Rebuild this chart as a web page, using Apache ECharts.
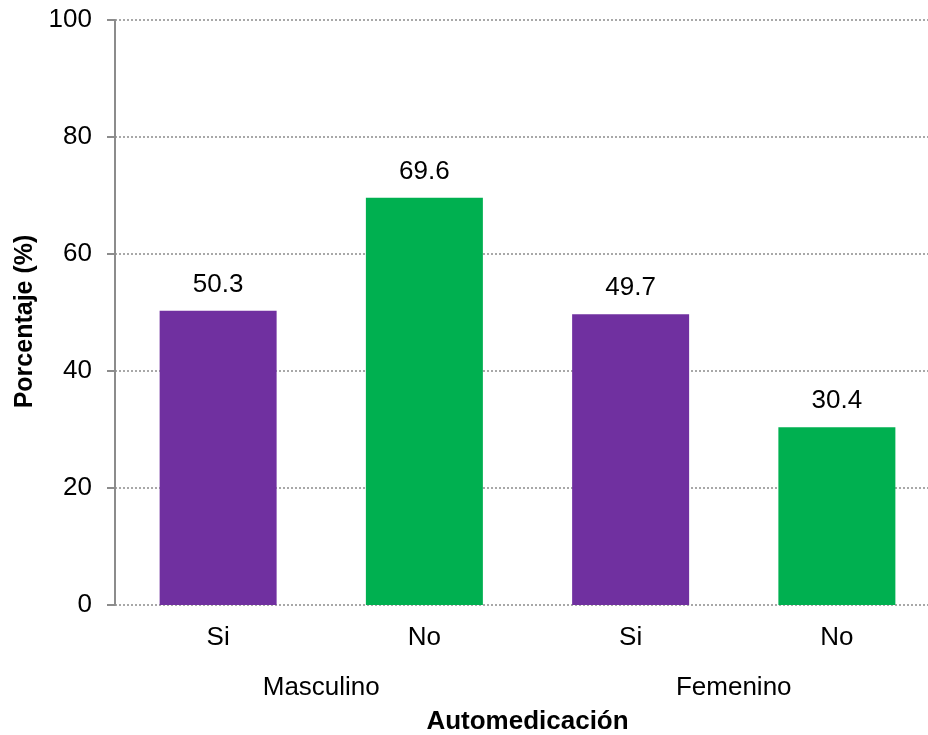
<!DOCTYPE html>
<html>
<head>
<meta charset="utf-8">
<script src="https://cdn.jsdelivr.net/npm/echarts@6/dist/echarts.min.js"></script>
<style>
  html, body { margin: 0; padding: 0; background: #fff; overflow: hidden; }
  #chart { width: 940px; height: 735px; }
</style>
</head>
<body>
<div id="chart"></div>
<script>
// Self-medication answers grouped by sex
const categories = ['Si', 'No', 'Si', 'No'];
const groups = ['Masculino', 'Femenino'];
const values = [50.3, 69.6, 49.7, 30.4];
const barColors = ['#7030A0', '#00B050', '#7030A0', '#00B050'];
const yTicks = [0, 20, 40, 60, 80, 100];

const font = 'Liberation Sans, Arial, sans-serif';

const chart = echarts.init(document.getElementById('chart'), null, { renderer: 'canvas' });

chart.setOption({
  backgroundColor: '#ffffff',
  animation: false,
  grid: { left: 115, top: 20, right: 0, bottom: 130, containLabel: false, outerBoundsMode: 'none' },
  xAxis: [
    {
      type: 'category',
      data: categories,
      position: 'bottom',
      axisLine: { show: false },
      axisTick: { show: false },
      axisLabel: { color: '#000', fontSize: 26, fontFamily: font, margin: 20 },
      name: 'Automedicación',
      nameLocation: 'middle',
      nameGap: 104,
      nameTextStyle: { color: '#000', fontSize: 26, fontWeight: 'bold', fontFamily: font }
    },
    {
      type: 'category',
      data: groups,
      position: 'bottom',
      offset: 50,
      axisLine: { show: false },
      axisTick: { show: false },
      axisLabel: { color: '#000', fontSize: 26, fontFamily: font, margin: 20 }
    }
  ],
  yAxis: {
    type: 'value',
    min: yTicks[0],
    max: yTicks[yTicks.length - 1],
    interval: 20,
    axisLine: { show: true, lineStyle: { color: '#8c8c8c', width: 2 } },
    axisTick: { show: true, inside: false, length: 8, lineStyle: { color: '#8c8c8c', width: 2 } },
    axisLabel: { color: '#000', fontSize: 26, fontFamily: font, margin: 23 },
    splitLine: { show: true, lineStyle: { color: '#8c8c8c', type: [2, 2], width: 1.5 } },
    name: 'Porcentaje (%)',
    nameLocation: 'middle',
    nameGap: 77,
    nameTextStyle: { color: '#000', fontSize: 25, fontWeight: 'bold', fontFamily: font, padding: [0, 18, 0, 0] }
  },
  series: [
    {
      type: 'bar',
      xAxisIndex: 0,
      barWidth: 117,
      data: values.map((v, i) => ({ value: v, itemStyle: { color: barColors[i] } })),
      label: {
        show: true,
        position: 'top',
        distance: 13,
        color: '#000',
        fontSize: 26,
        fontFamily: font,
        formatter: p => p.value.toFixed(1)
      }
    }
  ]
});
</script>
</body>
</html>
